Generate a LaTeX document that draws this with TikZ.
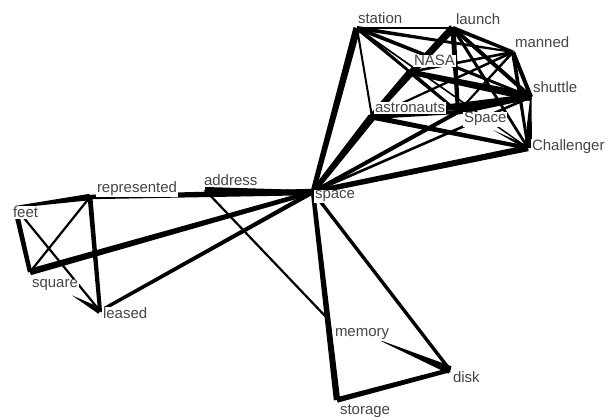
\documentclass[tikz,border=0pt]{standalone}
\usepackage{fontspec}
\setmainfont{Liberation Sans}
\usetikzlibrary{calc}
\definecolor{lblgray}{rgb}{0.27,0.27,0.27}
% tapered connector: from #1 to #2, half-width #3 at #1 and #4 at #2
\newcommand\taper[4]{\fill[black] ($(#1)!#3pt!90:(#2)$) -- ($(#1)!#3pt!-90:(#2)$) -- ($(#2)!#4pt!90:(#1)$) -- ($(#2)!#4pt!-90:(#1)$) -- cycle;}
% partial wedge: from #1 toward #2, half-width #3, ending in a point at fraction #4
\newcommand\partedge[4]{\fill[black] ($(#1)!#3pt!90:(#2)$) -- ($(#1)!#3pt!-90:(#2)$) -- ($(#1)!#4!(#2)$) -- cycle;}
\begin{document}
\begin{tikzpicture}[x=1pt,y=-1pt,
  lbl/.style={font=\fontsize{15}{16}\selectfont, text=lblgray, fill=white, inner sep=0.8pt, anchor=base west}]
\useasboundingbox (0,0) rectangle (608,419);
% anchor points
\coordinate (S) at (357,28);
\coordinate (L) at (453,28);
\coordinate (M) at (513,52);
\coordinate (N) at (410,72);
\coordinate (Sh) at (531,97);
\coordinate (A) at (372,117);
\coordinate (Sp) at (458,112);
\coordinate (C) at (528,148);
\coordinate (s) at (313,192);
\coordinate (R) at (90,197);
\coordinate (Ad) at (205,190);
\coordinate (F) at (15,207);
\coordinate (Q) at (30,272);
\coordinate (Le) at (100,311);
\coordinate (Me) at (327,318);
\coordinate (D) at (450,370);
\coordinate (St) at (337,400);
% left cluster
\taper{F}{R}{1}{3.2}
\taper{R}{s}{2.2}{3.2}
\taper{Ad}{s}{3}{1.8}
\taper{F}{Q}{2.5}{2.2}
\taper{F}{Le}{1.1}{1.1}
\taper{R}{Q}{1.1}{1.1}
\taper{R}{Le}{2.4}{2}
\partedge{Le}{Q}{3.2}{0.4}
\taper{Q}{s}{3.3}{2.2}
\taper{Le}{s}{1.7}{2.2}
\taper{Ad}{Me}{1.1}{1.1}
\taper{s}{St}{2.2}{3.2}
\taper{s}{D}{1.7}{1.7}
\partedge{D}{Me}{4}{0.6}
\taper{St}{D}{2.7}{2.2}
% top cluster
\taper{S}{s}{3.6}{2.5}
\taper{S}{A}{1}{1}
\taper{S}{L}{0.9}{0.9}
\taper{S}{M}{2}{1}
\taper{S}{Sh}{2}{1.3}
\taper{S}{N}{2}{1.3}
\taper{S}{Sp}{1.3}{1}
\taper{S}{C}{0.9}{0.7}
\taper{L}{N}{4}{2}
\taper{L}{A}{3.2}{2}
\taper{L}{M}{2}{1.6}
\taper{L}{Sh}{2}{2}
\taper{L}{C}{1.6}{1.3}
\taper{L}{Sp}{2.6}{2}
\taper{M}{N}{1.3}{1.3}
\taper{M}{A}{1.3}{1}
\taper{M}{Sh}{2}{2}
\taper{M}{C}{2}{1.3}
\taper{M}{Sp}{1.3}{1}
\taper{N}{A}{3.2}{3.2}
\taper{N}{Sh}{2.6}{4}
\taper{N}{Sp}{2}{1.3}
\taper{A}{Sh}{3.2}{3.2}
\taper{A}{Sp}{2}{2}
\taper{A}{C}{2.6}{2}
\taper{A}{s}{4}{2.6}
\taper{Sp}{Sh}{2.6}{2}
\taper{Sh}{C}{0.7}{3.8}
\partedge{C}{Sp}{2}{0.5}
\partedge{C}{A}{2}{0.3}
\taper{s}{C}{2.6}{3.2}
\taper{s}{Sp}{2}{2}
\taper{s}{N}{2}{1.3}
\taper{s}{Sh}{1.3}{1.3}
% labels
\node[lbl] (tstation) at (357,24) {station};
\node[lbl] (tlaunch) at (455,25) {launch};
\node[lbl] (tmanned) at (514,48) {manned};
\node[lbl] (tNASA) at (413,66) {NASA};
\node[lbl] (tshuttle) at (532,93) {shuttle};
\node[lbl] (tastronauts) at (374,113) {astronauts};
\node[lbl] (tSpace) at (463,123) {Space};
\node[lbl] (tChallenger) at (531,151) {Challenger};
\node[lbl] (tspace) at (314,199) {space};
\node[lbl] (trepresented) at (96,193) {represented};
\node[lbl] (taddress) at (203,186) {address};
\node[lbl] (tfeet) at (12,218) {feet};
\node[lbl] (tsquare) at (31,288) {square};
\node[lbl] (tleased) at (102,319) {leased};
\node[lbl] (tmemory) at (334,337) {memory};
\node[lbl] (tdisk) at (452,383) {disk};
\node[lbl] (tstorage) at (339,415) {storage};
\end{tikzpicture}
\end{document}
